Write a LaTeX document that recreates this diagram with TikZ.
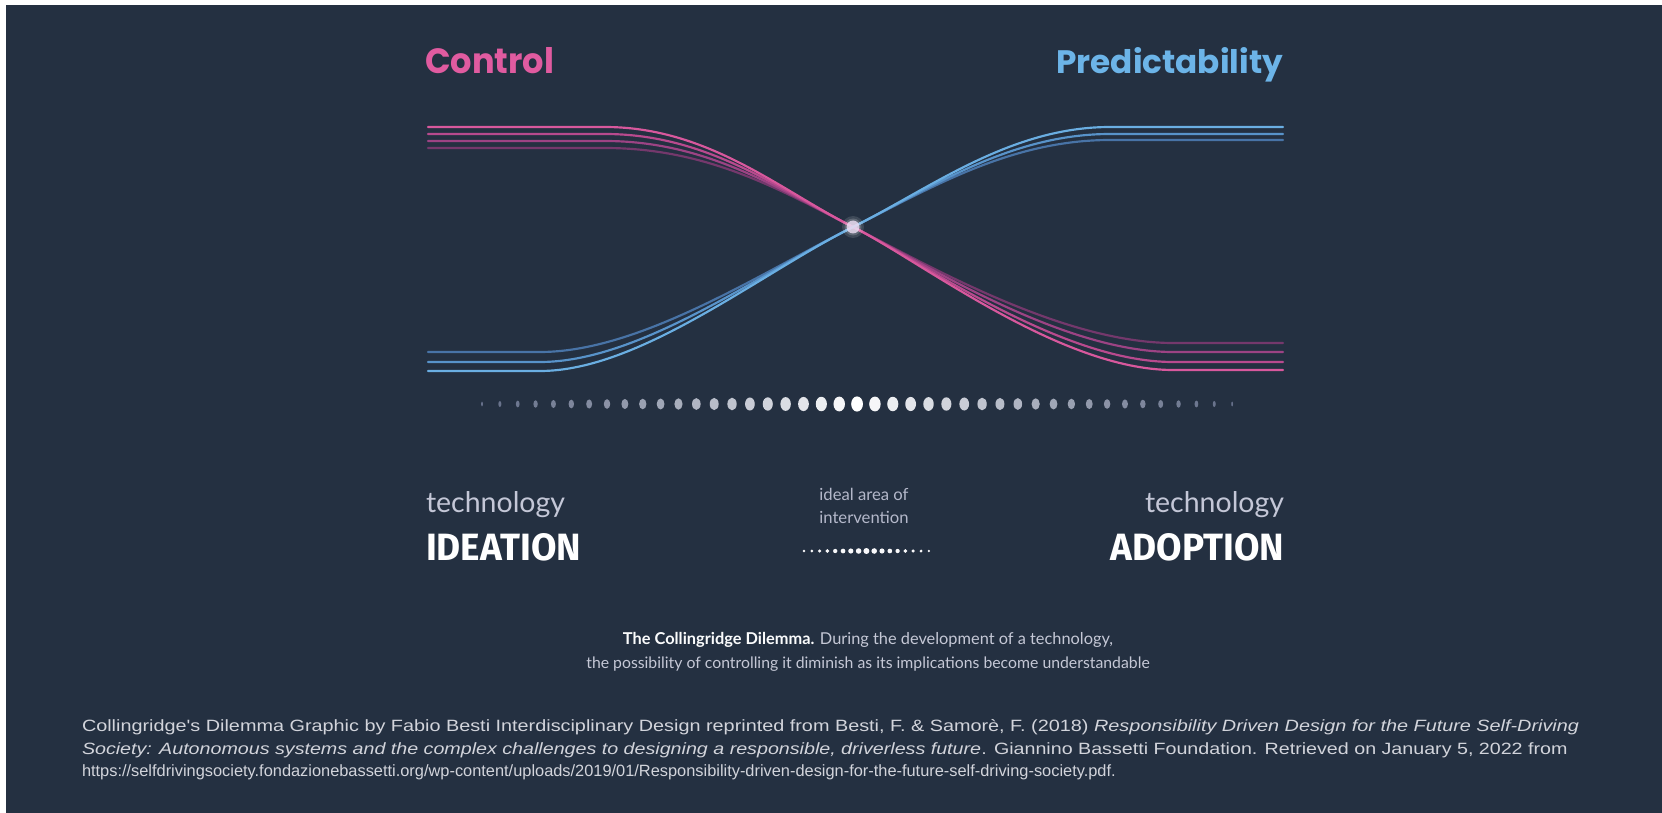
\documentclass[tikz,border=0pt]{standalone}
\usepackage{fontspec}
\usepackage{graphicx}
\newfontfamily\pop{Poppins}
\newfontfamily\fira{Fira Sans}
\newfontfamily\lato{Lato}
\newfontfamily\lib{Liberation Sans}
\definecolor{bgc}{HTML}{243041}
\definecolor{pinkc}{HTML}{E05BA0}
\definecolor{bluec}{HTML}{6CB4E8}
\definecolor{pA}{HTML}{D8589D}
\definecolor{pB}{HTML}{B84A8E}
\definecolor{pC}{HTML}{9C4384}
\definecolor{pD}{HTML}{74386C}
\definecolor{bA}{HTML}{6AAEE2}
\definecolor{bB}{HTML}{5893CA}
\definecolor{bC}{HTML}{4873A6}
\definecolor{dotgrey}{HTML}{66708A}
\definecolor{techc}{HTML}{C4C7D7}
\definecolor{smallc}{HTML}{B4B8CA}
\definecolor{capc}{HTML}{C5C8D6}
\definecolor{citec}{HTML}{D2D4DB}
\definecolor{glowc}{HTML}{E8DAF0}
\tikzset{
  txt/.style={inner sep=0pt, outer sep=0pt},
  pinkline/.style={line width=1.3pt, line cap=round},
  blueline/.style={line width=1.3pt, line cap=round},
  citetext/.style={txt, anchor=base west, text=citec},
}
\newcommand{\citef}{\lib\fontsize{9.8}{12}\selectfont}
\begin{document}
\begin{tikzpicture}[x=0.6pt,y=-0.6pt]
\useasboundingbox (0,0) rectangle (1662,813);
\fill[white] (0,0) rectangle (1662,813);
\fill[bgc] (6,5) rectangle (1662,813);

\coordinate (X) at (853,227);

% pink curves (Control)
\foreach \ya/\yb/\c in {148/343/pD, 141/352/pC, 134/362/pB, 127/370/pA}{
  \draw[pinkline, \c] (428,\ya) -- (605,\ya) .. controls (708,\ya) and (780,190) .. (X)
     .. controls (920,260.5) and (1060,\yb) .. (1173,\yb) -- (1283,\yb);
}
% blue curves (Predictability)
\foreach \ya/\yb/\c in {352/140/bC, 362/134/bB, 371/127/bA}{
  \draw[blueline, \c] (428,\ya) -- (540,\ya) .. controls (640,\ya) and (760,273.5) .. (X)
     .. controls (930,188.5) and (1010,\yb) .. (1110,\yb) -- (1283,\yb);
}
\fill[white, opacity=0.12] (X) circle (11);
\fill[white, opacity=0.18] (X) circle (8.5);
\fill[glowc, opacity=0.85] (X) circle (6.5);

% dots row
\foreach \k in {0,...,42}{
  \pgfmathsetmacro\d{abs(\k-21)/21}
  \pgfmathsetmacro\f{(1-\d)^0.7}
  \pgfmathsetmacro\rx{0.9+5.0*\f}
  \pgfmathsetmacro\ry{2.4+5.2*\f}
  \pgfmathsetmacro\pc{100*(1-\d)^1.3}
  \fill[white!\pc!dotgrey] (482+\k*17.86,404) ellipse [x radius=\rx, y radius=\ry];
}

% titles
\node[txt, anchor=base west, text=pinkc] (control) at (425,74)
  {\resizebox{77.4pt}{15.6pt}{\pop\bfseries Control}};
\node[txt, anchor=base east, text=bluec] (predict) at (1283,74)
  {\resizebox{136pt}{15.6pt}{\pop\bfseries Predictability}};

% bottom labels
\node[txt, anchor=base west, text=techc] (techL) at (426,512)
  {\resizebox{83.4pt}{!}{\lato technology}};
\node[txt, anchor=base west, text=white] (ideation) at (426,560)
  {\resizebox{93pt}{16.2pt}{\fira\bfseries IDEATION}};
\node[txt, anchor=base east, text=techc] (techR) at (1284,512)
  {\resizebox{83.4pt}{!}{\lato technology}};
\node[txt, anchor=base east, text=white] (adoption) at (1284,560)
  {\resizebox{104pt}{16.2pt}{\fira\bfseries ADOPTION}};

\node[txt, anchor=base, text=smallc] (ideal) at (864,500)
  {\lato\fontsize{10}{12}\selectfont ideal area of};
\node[txt, anchor=base, text=smallc] (interv) at (864,523)
  {\lato\fontsize{10}{12}\selectfont intervention};

\foreach \k in {0,...,16}{
  \pgfmathsetmacro\d{abs(\k-8)/8}
  \pgfmathsetmacro\r{1.3+1.7*(1-\d)}
  \fill[white!90!smallc] (804+\k*7.8,551) circle (\r);
}

% caption
\node[txt, anchor=base, text=capc] (cap1) at (868,644)
  {\resizebox{294pt}{!}{\lato{\bfseries\color{white!92!capc}The Collingridge Dilemma.} During the development of a technology,}};
\node[txt, anchor=base, text=capc] (cap2) at (868,668)
  {\resizebox{338pt}{!}{\lato the possibility of controlling it diminish as its implications become understandable}};

% citation
\node[citetext] (cite1) at (82,731)
  {\scalebox{1.214}[1]{\citef Collingridge's Dilemma Graphic by Fabio Besti Interdisciplinary Design reprinted from Besti, F. \& Samorè, F. (2018) \textit{Responsibility Driven Design for the Future Self-Driving}}};
\node[citetext] (cite2) at (82,754)
  {\scalebox{1.204}[1]{\citef \textit{Society: Autonomous systems and the complex challenges to designing a responsible, driverless future}. Giannino Bassetti Foundation. Retrieved on January 5, 2022 from}};
\node[citetext] (cite3) at (82,776)
  {\scalebox{1.003}[1]{\citef https://selfdrivingsociety.fondazionebassetti.org/wp-content/uploads/2019/01/Responsibility-driven-design-for-the-future-self-driving-society.pdf.}};
\end{tikzpicture}
\end{document}
